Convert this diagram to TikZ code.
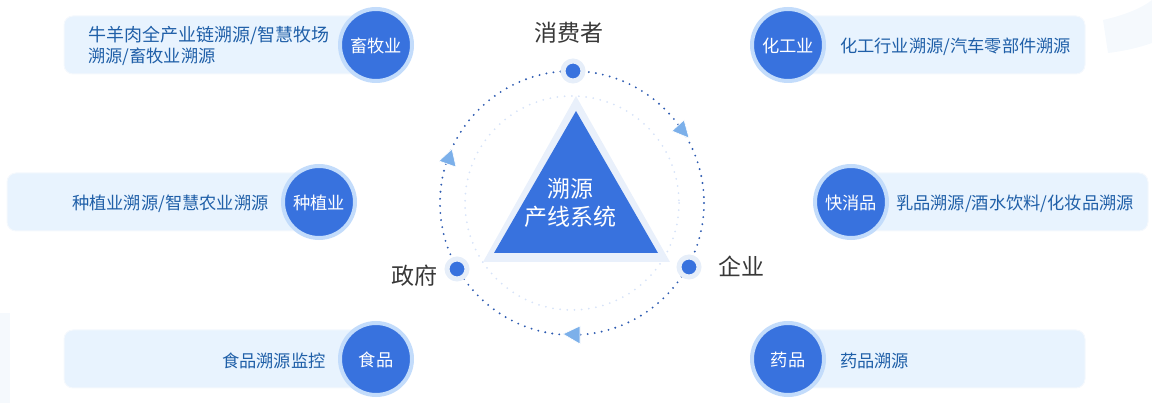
\documentclass[tikz,border=0pt]{standalone}
\usepackage{fontspec}
\setmainfont{Noto Sans CJK SC}
\usetikzlibrary{calc}
\definecolor{mainblue}{HTML}{3872DE}
\definecolor{halo}{HTML}{C3DCFB}
\definecolor{dothalo}{HTML}{E6EEF9}
\definecolor{cardfill}{HTML}{E8F3FE}
\definecolor{cardtxt}{HTML}{1F5FA8}
\definecolor{trihalo}{HTML}{E9F0FB}
\definecolor{tipblue}{HTML}{7CB0EA}
\definecolor{paleback}{HTML}{F5F9FD}
\tikzset{
  card/.style={fill=cardfill, draw=paleback, line width=1pt, rounded corners=9pt, minimum height=58pt, inner sep=0pt},
  cardtext/.style={text=cardtxt, anchor=west, align=left, inner sep=0pt, yshift=-2pt, font=\fontsize{17.25}{21}\selectfont},
  badge/.style={fill=mainblue, draw=halo, line width=4pt, circle, minimum size=72pt, inner sep=0pt, text=white, text height=17pt, text depth=2pt, font=\fontsize{17.25}{20}\selectfont},
  ringdot/.style={fill=mainblue, draw=dothalo, line width=5pt, circle, minimum size=20pt, inner sep=0pt},
  rolelabel/.style={text=black!78, inner sep=0pt, font=\fontsize{23}{26}\selectfont},
  tip/.style={fill=tipblue, draw=white, line width=0.6pt}
}
\begin{document}
\begin{tikzpicture}[x=1pt, y=-1pt]
\useasboundingbox (0,0) rectangle (1152,403);
% background
\fill[paleback] (0,313) rectangle (10,403);
\fill[paleback] (1103,20) .. controls (1125,15) and (1142,8) .. (1152,0) -- (1152,43) .. controls (1138,48) and (1124,51) .. (1108,53) -- cycle;
% rings
\coordinate (center) at (572,203);
\draw[mainblue!20, line width=2pt, line cap=round, dash pattern=on 0pt off 7.2pt] (center) circle (107);
\draw[mainblue!80!black, line width=2.1pt, line cap=round, dash pattern=on 0pt off 7.1pt] (center) circle (132);
% triangle
\fill[trihalo] (576,96) -- (670,262) -- (483,262) -- cycle;
\fill[mainblue] (576,111) -- (658,253) -- (494,253) -- cycle;
\node[text=white, align=center, inner sep=0pt, font=\fontsize{23}{28}\selectfont] (core) at (570.5,203) {溯源\\产线系统};
% arrow heads
\draw[tip] (684,120) -- (689,138) -- (672,131) -- cycle;
\draw[tip] (452,149) -- (456,167) -- (439,161) -- cycle;
\draw[tip] (580,326) -- (580,344) -- (563,334) -- cycle;
% ring nodes
\node[ringdot] (consumer) at (573,71) {};
\node[ringdot] (govern) at (457,269) {};
\node[ringdot] (firm) at (689,267) {};
\node[rolelabel] (consumerlabel) at (569,33) {消费者};
\node[rolelabel] (governlabel) at (414,276) {政府};
\node[rolelabel] (firmlabel) at (741,266) {企业};
% left cards
\node[card, minimum width=310pt] (livecard) at (219,45) {};
\node[card, minimum width=310pt] (cropcard) at (162,202) {};
\node[card, minimum width=310pt] (foodcard) at (219,359) {};
\node[cardtext] (livetext) at (88,44) {{\fontsize{18}{21}\selectfont 牛羊肉全产业链溯源/智慧牧场}\\溯源/畜牧业溯源};
\node[cardtext] (croptext) at (72,202) {种植业溯源/智慧农业溯源};
\node[cardtext] (foodtext) at (222,359) {食品溯源监控};
\node[badge] (live) at (376,45) {畜牧业};
\node[badge] (crop) at (319,202) {种植业};
\node[badge] (food) at (376,359) {食品};
% right cards
\node[card, minimum width=310pt] (chemcard) at (930,45) {};
\node[card, minimum width=310pt] (fmcgcard) at (993,202) {};
\node[card, minimum width=310pt] (drugcard) at (930,359) {};
\node[cardtext] (chemtext) at (840,45) {化工行业溯源/汽车零部件溯源};
\node[cardtext] (fmcgtext) at (896,202) {乳品溯源/酒水饮料/化妆品溯源};
\node[cardtext] (drugtext) at (840,359) {药品溯源};
\node[badge] (chem) at (788,45) {化工业};
\node[badge] (fmcg) at (851,202) {快消品};
\node[badge] (drug) at (788,359) {药品};
\end{tikzpicture}
\end{document}
